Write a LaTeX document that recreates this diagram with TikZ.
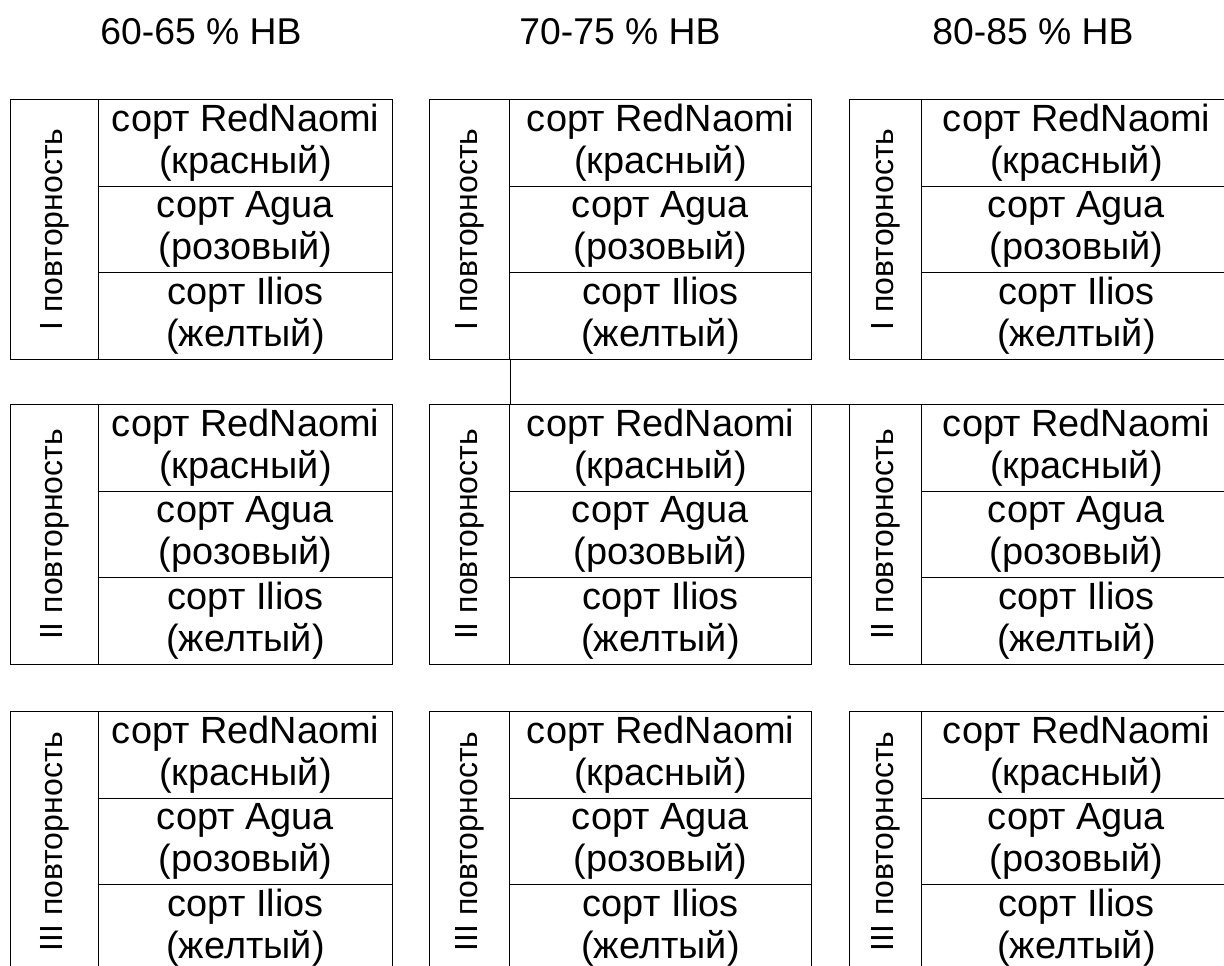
\documentclass[tikz,border=0pt]{standalone}
\usepackage{fontspec}
\setmainfont{Liberation Sans}
\begin{document}
\begin{tikzpicture}[x=1pt, y=-1pt, line width=1pt,
  frame/.style={draw=black, rectangle, inner sep=0pt, anchor=north west},
  variety/.style={frame, align=center, font=\fontsize{37.9}{42}\selectfont},
  replabel/.style={rotate=90, inner sep=0pt, font=\fontsize{32}{36}\selectfont},
  header/.style={anchor=base, font=\fontsize{37.3}{42}\selectfont}]
\useasboundingbox (0,0) rectangle (1224,966);
\fill[white] (0,0) rectangle (1224,966);
\clip (0,0) rectangle (1224,966);

% three humidity levels, each with three replications of three varieties
\foreach \c/\xl/\xd/\xh/\hd in {1/10/98/201/60-65, 2/429/509/620/70-75, 3/849/921/1033/80-85}{
  \node[header] (h\c) at (\xh,45) {\hd\ \%\ HB};
  \pgfmathsetmacro\lw{\xd-\xl}
  \pgfmathsetmacro\vw{382-\lw}
  \foreach \r/\yt/\rn in {1/99/I, 2/404/II, 3/711/III}{
    \node[frame, minimum width=\lw pt, minimum height=260pt] (lab-\c-\r) at (\xl,\yt) {};
    \node[replabel] (txt-\c-\r) at (lab-\c-\r.center) {\rn\ повторность};
    \node[variety, minimum width=\vw pt, minimum height=86.67pt] (v-\c-\r-1) at (\xd,\yt) {сорт RedNaomi\\(красный)};
    \node[variety, minimum width=\vw pt, minimum height=86.67pt] (v-\c-\r-2) at (\xd,{\yt+86.67}) {сорт Agua\\(розовый)};
    \node[variety, minimum width=\vw pt, minimum height=86.67pt] (v-\c-\r-3) at (\xd,{\yt+173.33}) {сорт Ilios\\(желтый)};
  }
}

% connecting strokes between the blocks
\draw (lab-2-1.south east) -- (lab-2-2.north east);
\draw (v-2-2-1.north east) -- (lab-3-2.north west);
\end{tikzpicture}
\end{document}
